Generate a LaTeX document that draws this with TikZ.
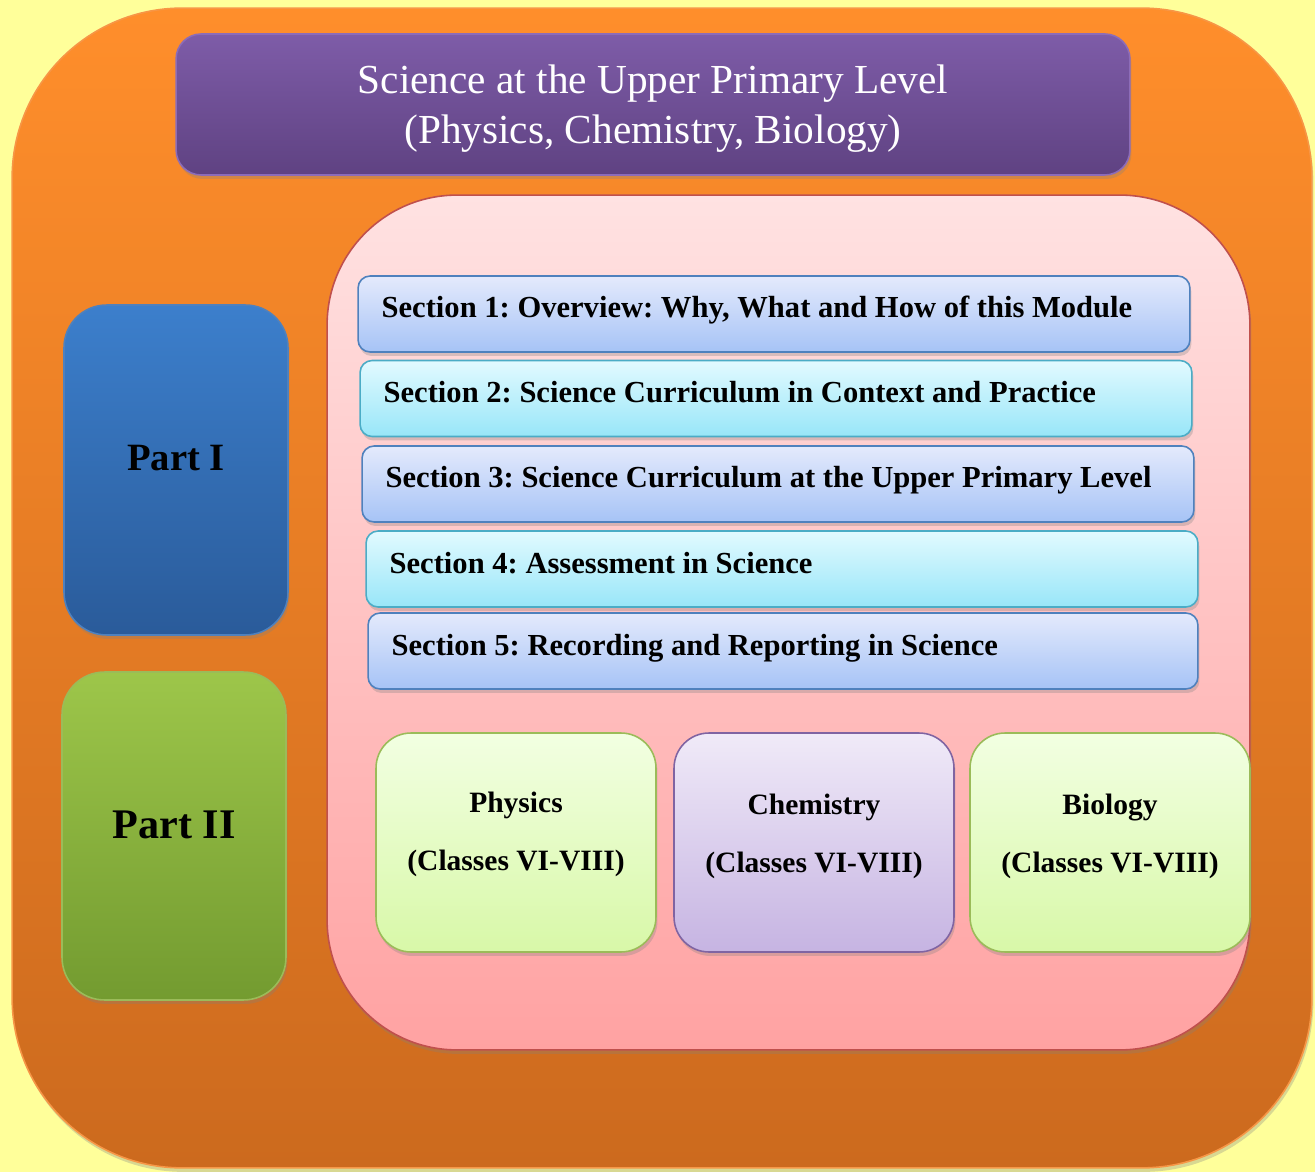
\documentclass[tikz,border=0pt]{standalone}
\usepackage{fontspec}
\setmainfont{Liberation Serif}
\frenchspacing
\usetikzlibrary{shadows}
\definecolor{bgY}{HTML}{FFFF9A}
\definecolor{orT}{HTML}{FF8E2B}
\definecolor{orB}{HTML}{CC6A1E}
\definecolor{orD}{HTML}{F79646}
\definecolor{puT}{HTML}{7E5CA8}
\definecolor{puB}{HTML}{5F4282}
\definecolor{puD}{HTML}{8C6CB8}
\definecolor{piT}{HTML}{FFE2E2}
\definecolor{piB}{HTML}{FFA2A2}
\definecolor{piD}{HTML}{C0504D}
\definecolor{blT}{HTML}{3C7FCC}
\definecolor{blB}{HTML}{2A5B9A}
\definecolor{blD}{HTML}{4F81BD}
\definecolor{grT}{HTML}{9DC64A}
\definecolor{grB}{HTML}{739B30}
\definecolor{grD}{HTML}{9BBB59}
\definecolor{sbT}{HTML}{E4EAFC}
\definecolor{sbB}{HTML}{A6C3F6}
\definecolor{sbD}{HTML}{4F81BD}
\definecolor{scT}{HTML}{E2FAFF}
\definecolor{scB}{HTML}{98E6F8}
\definecolor{scD}{HTML}{4BACC6}
\definecolor{lgT}{HTML}{F2FFE2}
\definecolor{lgB}{HTML}{D8F8A8}
\definecolor{lpT}{HTML}{F0EAF8}
\definecolor{lpB}{HTML}{C6B4E2}
\definecolor{lpD}{HTML}{8064A2}
\begin{document}
\begin{tikzpicture}[x=0.02cm,y=-0.02cm,
  rbox/.style={rectangle, inner sep=0pt, line width=0.9pt,
    drop shadow={shadow xshift=0.03cm, shadow yshift=-0.08cm, opacity=0.3}},
  outerbox/.style={rbox, minimum width=26cm, minimum height=23.2cm, rounded corners=3.4cm,
    top color=orT, bottom color=orB, draw=orD},
  titlebox/.style={rbox, minimum width=19.08cm, minimum height=2.82cm, rounded corners=0.5cm,
    top color=puT, bottom color=puB, draw=puD},
  titletext/.style={inner sep=0pt, text=white, align=center,
    font=\fontsize{23.5}{28.5}\selectfont},
  pinkbox/.style={rbox, minimum width=18.46cm, minimum height=17.1cm, rounded corners=2.6cm,
    top color=piT, bottom color=piB, draw=piD},
  partbox/.style={rbox, minimum width=4.48cm, minimum height=6.6cm, rounded corners=0.85cm},
  secbox/.style={rbox, minimum width=16.64cm, minimum height=1.52cm, rounded corners=0.24cm},
  secblue/.style={secbox, top color=sbT, bottom color=sbB, draw=sbD},
  seccyan/.style={secbox, top color=scT, bottom color=scB, draw=scD},
  sectext/.style={anchor=base west, inner sep=0pt, font=\fontsize{17.4}{20}\selectfont\bfseries},
  subjbox/.style={rbox, minimum width=5.6cm, minimum height=4.38cm, rounded corners=0.7cm},
  subjtext/.style={align=center, inner sep=0pt, font=\fontsize{16.8}{33}\selectfont\bfseries}
]
\useasboundingbox (0,0) rectangle (1315,1172);
\fill[bgY] (0,0) rectangle (1315,1172);

\node[outerbox] (outer) at (662,588) {};
\node[titlebox] (title) at (653,104.5) {};
\node[titletext] (titlet) at ([yshift=-0.08cm]title.center) {Science at the Upper Primary Level\\(Physics, Chemistry, Biology)};
\node[pinkbox] (pink) at (788.5,622.5) {};

\node[partbox, top color=blT, bottom color=blB, draw=blD] (p1) at (176,470) {};
\node[inner sep=0pt, font=\fontsize{22}{26}\selectfont\bfseries] (p1t) at ([yshift=0.24cm]p1.center) {Part I};
\node[partbox, minimum height=6.56cm, top color=grT, bottom color=grB, draw=grD] (p2) at (174,836) {};
\node[inner sep=0pt, font=\fontsize{24}{30}\selectfont\bfseries] (p2t) at ([yshift=0.22cm]p2.center) {Part II};

\node[secblue] (s1) at (774,314) {};
\node[sectext] (s1t) at ([xshift=0.48cm,yshift=-0.08cm]s1.west) {Section 1: Overview: Why, What and How of this Module};
\node[seccyan] (s2) at (776,398.5) {};
\node[sectext] (s2t) at ([xshift=0.48cm,yshift=-0.08cm]s2.west) {Section 2: Science Curriculum in Context and Practice};
\node[secblue] (s3) at (778,484) {};
\node[sectext] (s3t) at ([xshift=0.48cm,yshift=-0.08cm]s3.west) {Section 3: Science Curriculum at the Upper Primary Level};
\node[seccyan] (s4) at (782,569) {};
\node[sectext] (s4t) at ([xshift=0.48cm,yshift=-0.08cm]s4.west) {Section 4: Assessment in Science};
\node[secblue, minimum width=16.6cm] (s5) at (783,651) {};
\node[sectext] (s5t) at ([xshift=0.48cm,yshift=-0.08cm]s5.west) {Section 5: Recording and Reporting in Science};

\node[subjbox, top color=lgT, bottom color=lgB, draw=grD] (phy) at (516,842.5) {};
\node[subjtext] (phyt) at ([yshift=0.16cm]phy.center) {Physics\\(Classes VI-VIII)};
\node[subjbox, top color=lpT, bottom color=lpB, draw=lpD] (che) at (814,842.5) {};
\node[subjtext] (chet) at ([yshift=0.12cm]che.center) {Chemistry\\(Classes VI-VIII)};
\node[subjbox, top color=lgT, bottom color=lgB, draw=grD] (bio) at (1110,842.5) {};
\node[subjtext] (biot) at ([yshift=0.12cm]bio.center) {Biology\\(Classes VI-VIII)};
\end{tikzpicture}
\end{document}
